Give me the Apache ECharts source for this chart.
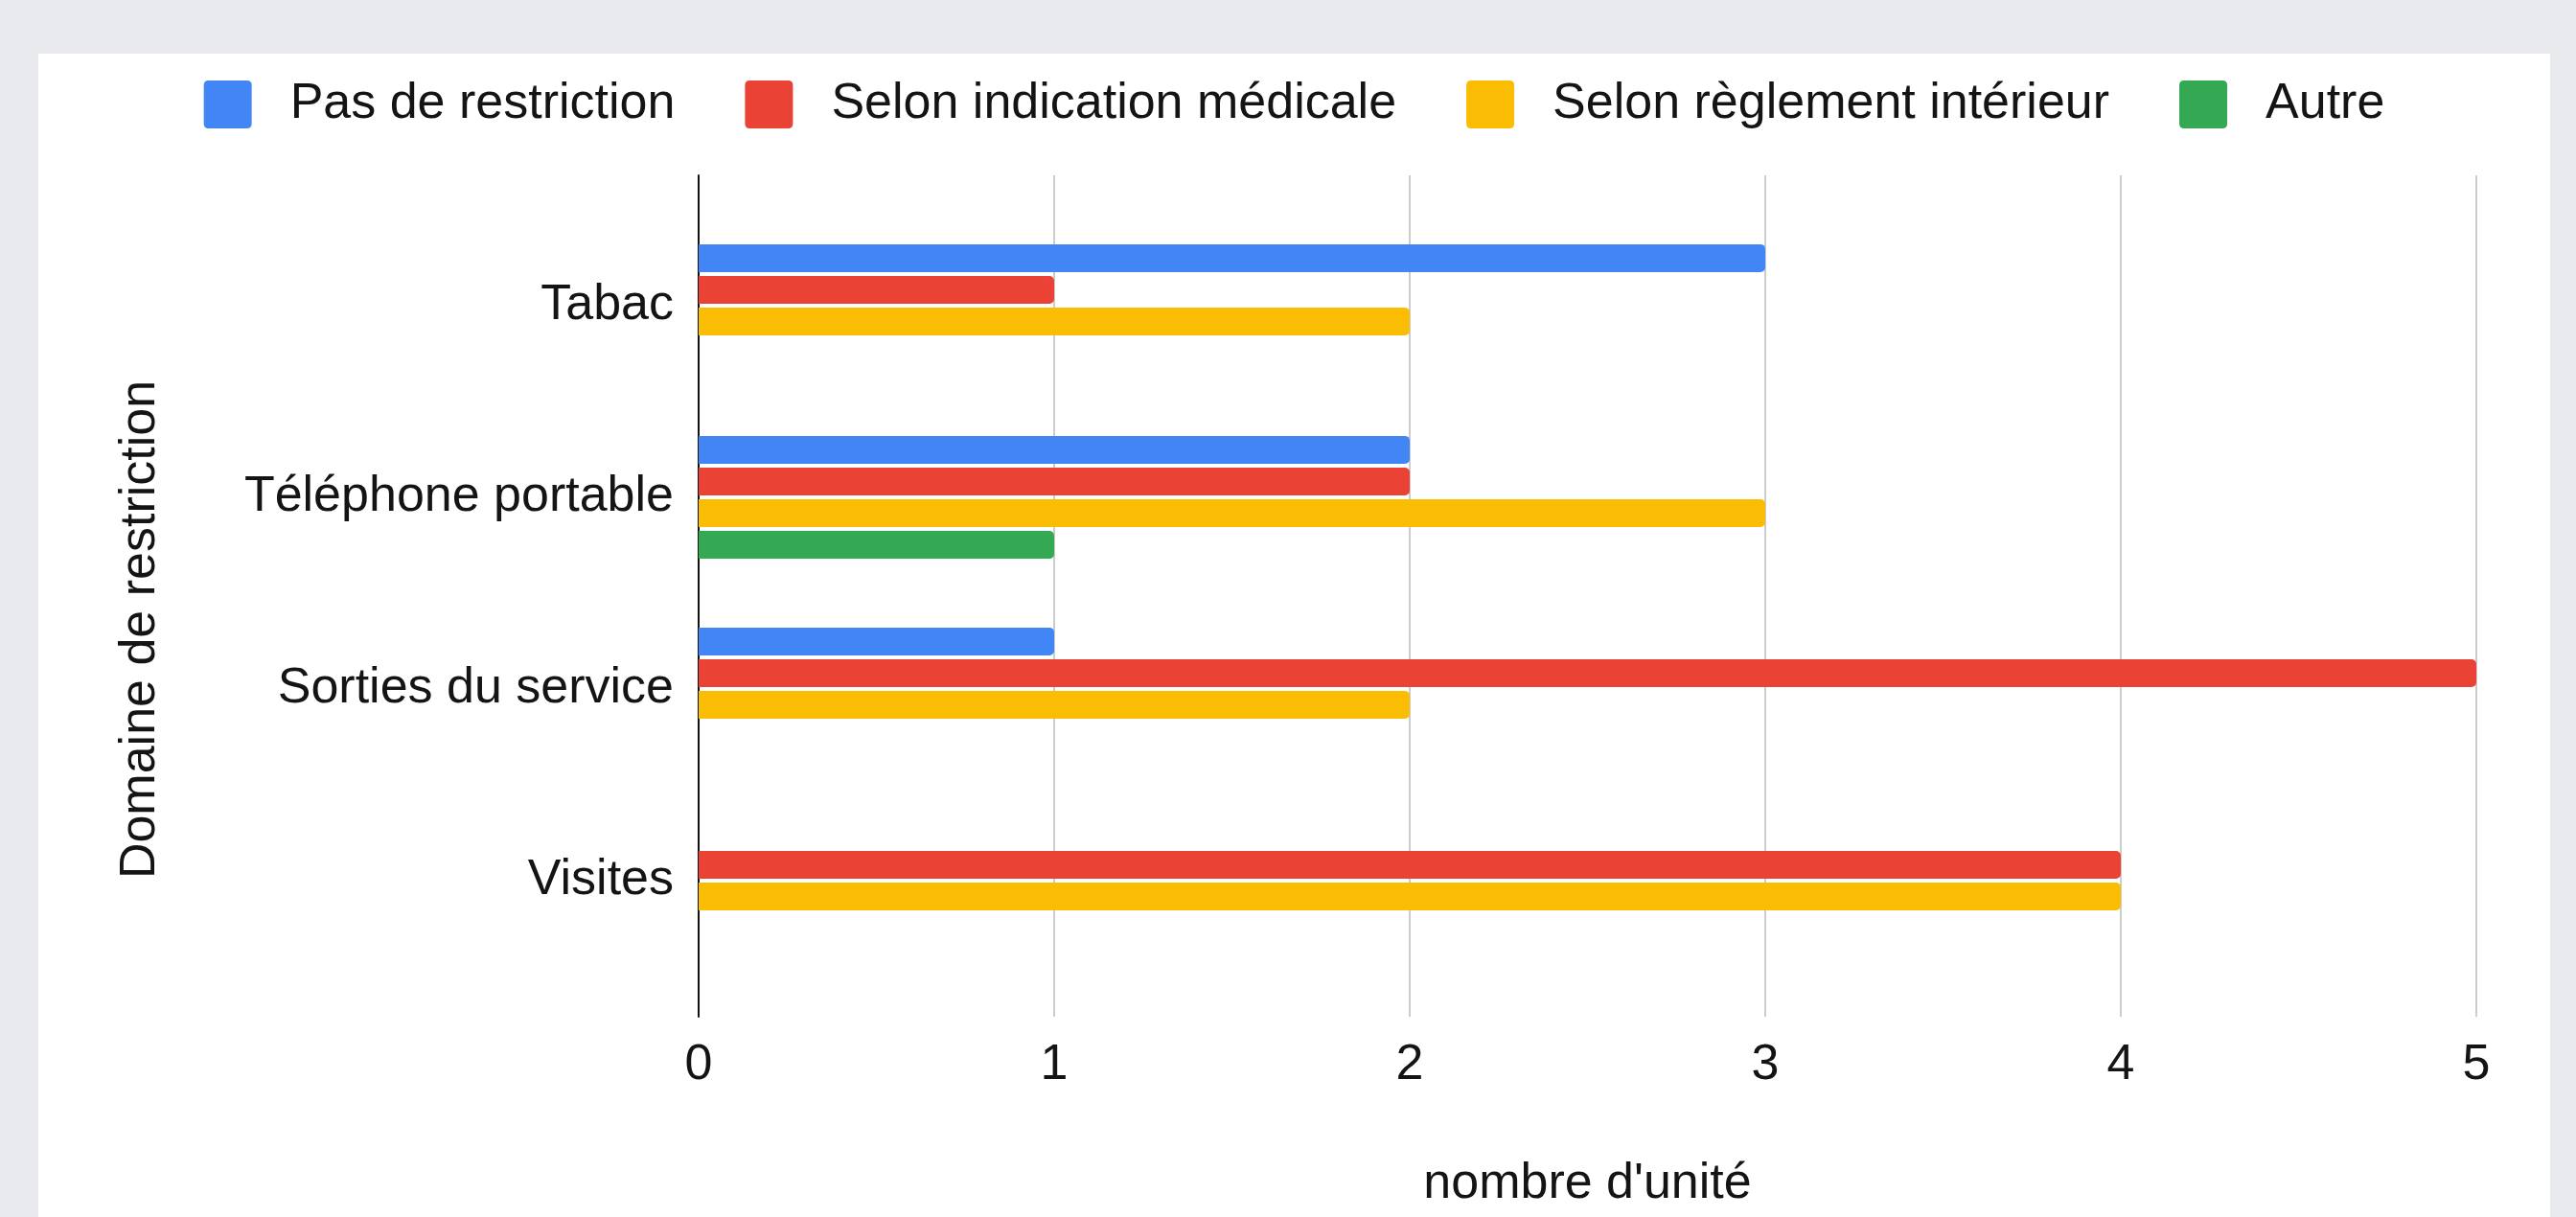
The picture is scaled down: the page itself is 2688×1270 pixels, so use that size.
<!DOCTYPE html>
<html>
<head>
<meta charset="utf-8">
<title>Domaine de restriction</title>
<script src="https://cdn.jsdelivr.net/npm/echarts@6/dist/echarts.min.js"></script>
<style>
html,body{margin:0;padding:0;width:2688px;height:1270px;background:#e9eaed;overflow:hidden;}
#card{position:absolute;left:40px;top:56px;width:2621px;height:1214px;background:#fff;}
</style>
</head>
<body>
<div id="card"></div>
<script>
// donnees
var categories = ["Tabac", "Téléphone portable", "Sorties du service", "Visites"];
var pasRestriction = [3, 2, 1, null];
var selonMedicale = [1, 2, 5, 4];
var selonReglement = [2, 3, 2, 4];
var autre = [null, 1, null, null];
var xTicks = [0, 1, 2, 3, 4, 5];

var font = '"Liberation Sans", Arial, sans-serif';
var txt = '#141414';
var squareIcon = 'path://M5,0H45Q50,0 50,5V45Q50,50 45,50H5Q0,50 0,45V5Q0,0 5,0Z';

function barSerie(name, color, values){
	return {
		name: name,
		type: 'bar',
		xAxisIndex: 1,
		yAxisIndex: 1,
		barWidth: 29,
		barGap: '14%',
		itemStyle: {color: color, borderRadius: [0, 5, 5, 0]},
		emphasis: {disabled: true},
		data: values
	};
}

var myChart = echarts.init(document.getElementById('card'));
var option = {
	animation: false,
	textStyle: {fontFamily: font},
	color: ['#4285f4', '#ea4335', '#fbbc04', '#34a853'],
	legend: {
		top: 22,
		left: 'center',
		itemWidth: 50,
		itemHeight: 50,
		itemGap: 73,
		icon: squareIcon,
		textStyle: {fontSize: 52, color: txt, fontFamily: font, padding: [0, 0, 0, 35]}
	},
	grid: [
		{left: 689, right: 77, top: 127, bottom: 209},
		{left: 689, right: 77, top: 163, bottom: 251}
	],
	xAxis: [
		{
			gridIndex: 0,
			type: 'value',
			min: xTicks[0],
			max: xTicks[xTicks.length - 1],
			interval: 1,
			axisLine: {show: false, onZero: false},
			axisTick: {show: false},
			axisLabel: {margin: 25, fontSize: 52, lineHeight: 52, color: txt},
			splitLine: {lineStyle: {color: '#cccccc', width: 2}},
			name: "nombre d'unité",
			nameLocation: 'middle',
			nameGap: 149,
			nameTextStyle: {fontSize: 52, lineHeight: 52, color: txt}
		},
		{
			gridIndex: 1,
			type: 'value',
			min: xTicks[0],
			max: xTicks[xTicks.length - 1],
			show: false
		}
	],
	yAxis: [
		{
			gridIndex: 0,
			type: 'value',
			axisLine: {show: true, lineStyle: {color: '#111', width: 2}},
			axisTick: {show: false},
			axisLabel: {show: false},
			splitLine: {show: false},
			name: 'Domaine de restriction',
			nameLocation: 'middle',
			nameGap: 556,
			nameTextStyle: {fontSize: 52, lineHeight: 52, color: txt, padding: [0, 70, 0, 0]}
		},
		{
			gridIndex: 1,
			type: 'category',
			data: categories,
			inverse: true,
			axisLine: {show: false},
			axisTick: {show: false},
			axisLabel: {margin: 26, fontSize: 52, color: txt}
		}
	],
	series: [
		barSerie('Pas de restriction', '#4285f4', pasRestriction),
		barSerie('Selon indication médicale', '#ea4335', selonMedicale),
		barSerie('Selon règlement intérieur', '#fbbc04', selonReglement),
		barSerie('Autre', '#34a853', autre)
	]
};
myChart.setOption(option);
</script>
</body>
</html>
